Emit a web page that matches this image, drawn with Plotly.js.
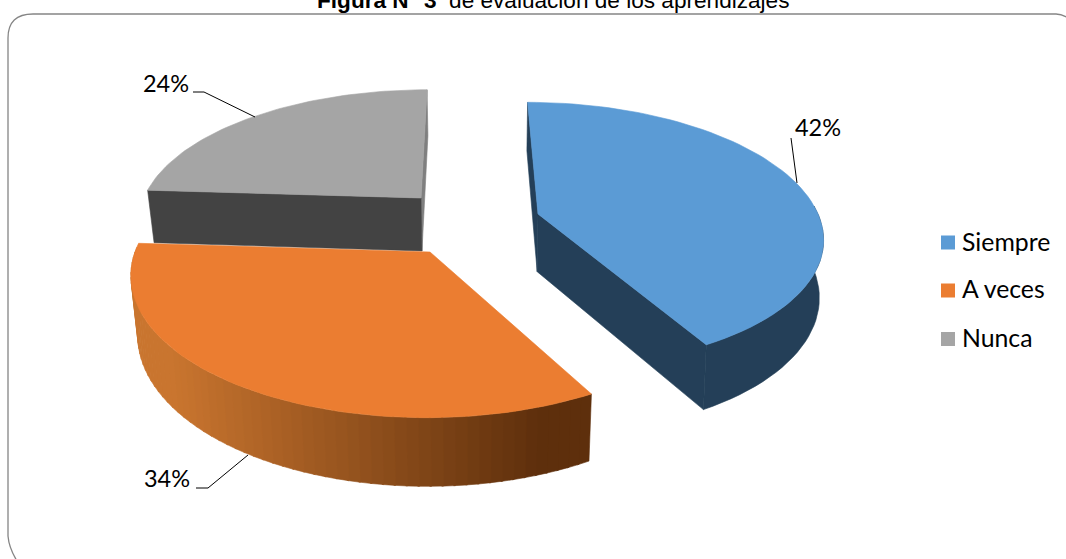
<!DOCTYPE html>
<html><head><meta charset="utf-8">
<script src="https://cdn.plot.ly/plotly-3.0.1.min.js"></script>
<style>html,body{margin:0;padding:0;background:#fff;overflow:hidden}#c{width:1066px;height:559px}</style>
</head><body><div id="c"></div>
<script>
const categories = ["Siempre", "A veces", "Nunca"];
const values = [42, 34, 24];
const topColors = ["#5B9BD5", "#EB7D31", "#A5A5A5"];
const sideColors = ["#243F58", "#C9752F", "#434343"];
const orangeSideEnd = "#5E2F0C";

// 3D view of each slice: apex position, radii, shear, thickness
const PERSP = 0.155;
const views = [
  {ax: 538, ay: 214, rx: 280, ry: 129, shear: 12, h: 56, vx: 470, depth: 0.988},
  {ax: 430, ay: 252, rx: 295, ry: 140, shear: -3, h: 58, vx: 470, depth: 0.98},
  {ax: 421, ay: 198, rx: 277, ry: 125, shear: -7, h: 53, vx: 470, depth: 0.98}
];

function rimPoint(v, deg, lower) {
  const t = deg * Math.PI / 180, a = Math.sin(t), b = -Math.cos(t);
  const s = 1 / (1 - PERSP * b);
  const x = v.ax + (a * v.rx + b * v.shear) * s;
  const y = v.ay + b * v.ry * s;
  return lower ? drop(v, x, y, s) : [x, y];
}
function drop(v, x, y, s) {
  return [v.vx + (x - v.vx) * v.depth, y + v.h * s];
}
function rimArc(v, a0, a1, lower, n) {
  const out = [];
  for (let i = 0; i <= n; i++) out.push(rimPoint(v, a0 + (a1 - a0) * i / n, lower));
  return out;
}
function poly(pts, color, name) {
  return {
    type: "scatter", mode: "lines", x: pts.map(p => p[0]), y: pts.map(p => p[1]),
    fill: "toself", fillcolor: color, line: {width: 0.6, color: color},
    hoverinfo: "skip", showlegend: false, name: name
  };
}
function mix(c1, c2, f) {
  const p = c => [1, 3, 5].map(i => parseInt(c.substr(i, 2), 16));
  const a = p(c1), b = p(c2);
  return "rgb(" + a.map((x, i) => Math.round(x + (b[i] - x) * f)).join(",") + ")";
}

const total = values.reduce((s, x) => s + x, 0);
const ranges = []; let acc = 0;
values.forEach(val => { ranges.push([acc, acc + val / total * 360]); acc += val / total * 360; });

const traces = [];
// Nunca (back)
{
  const i = 2, v = views[i], [a0, a1] = ranges[i];
  const apex = [v.ax, v.ay], apexL = drop(v, v.ax, v.ay, 1);
  const pS = rimPoint(v, a0), pSL = rimPoint(v, a0, true), pE = rimPoint(v, a1), pEL = rimPoint(v, a1, true);
  traces.push(poly([pE, pEL, apexL, apex, pE], "#7F7F7F", categories[i]));
  traces.push(poly([apex, apexL, pSL, pS, apex], sideColors[i], categories[i]));
  traces.push(poly([apex].concat(rimArc(v, a0, a1, false, 60), [apex]), topColors[i], categories[i]));
}
// A veces (front)
{
  const i = 1, v = views[i], [a0, a1] = ranges[i];
  const n = 60, visEnd = a1 - 2;
  for (let k = 0; k < n; k++) {
    const b0 = a0 + (visEnd - a0) * k / n, b1 = a0 + (visEnd - a0) * (k + 1) / n;
    const midX = rimPoint(v, (b0 + b1) / 2)[0];
    const f = Math.min(1, Math.max(0, (540 - midX) / (540 - 170)));
    const col = mix(orangeSideEnd, sideColors[i], f);
    const up = rimArc(v, b0, b1 + 0.3, false, 2), lo = rimArc(v, b0, b1 + 0.3, true, 2).reverse();
    traces.push(poly(up.concat(lo, [up[0]]), col, categories[i]));
  }
  traces.push(poly([[v.ax, v.ay]].concat(rimArc(v, a0, a1, false, 70), [[v.ax, v.ay]]), topColors[i], categories[i]));
}
// Siempre (exploded)
{
  const i = 0, v = views[i], [a0, a1] = ranges[i];
  const apex = [v.ax, v.ay], apexL = drop(v, v.ax, v.ay, 1.03);
  const upper = rimArc(v, a0, a1, false, 70), lower = rimArc(v, a0, a1, true, 70);
  traces.push(poly([upper[0], lower[0], apexL, apex, upper[0]], sideColors[i], categories[i]));
  traces.push(poly([apex, apexL, lower[70], upper[70], apex], sideColors[i], categories[i]));
  traces.push(poly(upper.slice(40).concat(lower.slice(40).reverse(), [upper[40]]), sideColors[i], categories[i]));
  traces.push(poly([apex].concat(upper, [apex]), topColors[i], categories[i]));
}

// Leader lines and percentage labels
const labelX = [818, 167, 166];
const labelY = [130, 481, 86];
const leaders = [
  [[791, 138], [797, 183]],
  [[196, 488], [208, 488], [248, 455]],
  [[193, 92], [204, 92], [255, 117]]
];
leaders.forEach(l => traces.push({
  type: "scatter", mode: "lines", x: l.map(p => p[0]), y: l.map(p => p[1]),
  line: {color: "#000", width: 1}, hoverinfo: "skip", showlegend: false
}));
traces.push({
  type: "scatter", mode: "text", x: labelX, y: labelY,
  text: values.map(x => x + "%"), textposition: "middle center",
  textfont: {family: "Lato, 'Open Sans', sans-serif", size: 23.5, color: "#000"},
  hoverinfo: "skip", showlegend: false
});
// Legend entries
const legendX = [948, 948, 948];
const legendTextX = [962, 962, 962];
const legendY = [242.5, 290.5, 339];
const legendTextY = [245, 291.5, 340.5];
traces.push({
  type: "scatter", mode: "markers", x: legendX, y: legendY,
  marker: {symbol: "square", size: 14, color: topColors, line: {width: 0}},
  hoverinfo: "skip", showlegend: false
});
traces.push({
  type: "scatter", mode: "text", x: legendTextX, y: legendTextY,
  text: categories, textposition: "middle right",
  textfont: {family: "Lato, 'Open Sans', sans-serif", size: 24.8, color: "#000"},
  hoverinfo: "skip", showlegend: false
});

const layout = {
  width: 1066, height: 559,
  margin: {l: 0, r: 0, t: 0, b: 0},
  paper_bgcolor: "#fff", plot_bgcolor: "#fff",
  xaxis: {range: [0, 1066], visible: false, fixedrange: true},
  yaxis: {range: [559, 0], visible: false, fixedrange: true},
  showlegend: false,
  shapes: [{
    type: "path", xref: "x", yref: "y",
    path: "M 17 561 Q 9 548 8 536 L 8 38 Q 8 14 33 14 L 1056 14 Q 1062 14 1068 18",
    line: {color: "#858585", width: 1.3}, fillcolor: "rgba(0,0,0,0)"
  }],
  annotations: [{
    xref: "x", yref: "y", x: 553, y: 0, xanchor: "center", yanchor: "middle",
    showarrow: false,
    text: "<b>Figura N° 3</b>  de evaluación de los aprendizajes",
    font: {family: "'Liberation Sans', Arial, sans-serif", size: 22.6, color: "#000"}
  }]
};
Plotly.newPlot("c", traces, layout, {displayModeBar: false, staticPlot: true});
</script></body></html>
